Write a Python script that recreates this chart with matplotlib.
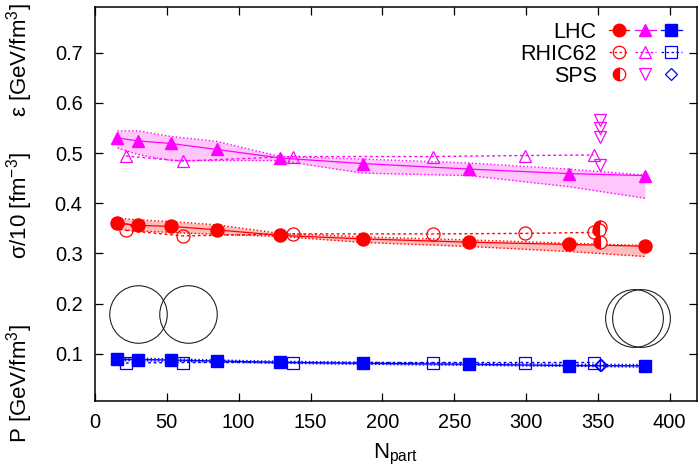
import matplotlib
matplotlib.use('Agg')
import matplotlib.pyplot as plt
from matplotlib.lines import Line2D
from matplotlib.legend_handler import HandlerTuple

plt.rcParams['font.family'] = ['Liberation Sans', 'DejaVu Sans']
plt.rcParams['mathtext.fontset'] = 'custom'
plt.rcParams['mathtext.rm'] = 'Liberation Sans'
plt.rcParams['mathtext.it'] = 'Liberation Sans:italic'

# LHC (Pb-Pb) centrality classes
N_lhc = [15.6, 30.0, 52.8, 85.0, 128.9, 186.4, 260.5, 329.7, 382.8]
eps_lhc = [0.530, 0.524, 0.519, 0.507, 0.490, 0.479, 0.468, 0.459, 0.455]
eps_lhc_hi = [0.544, 0.544, 0.533, 0.523, 0.493, 0.488, 0.480, 0.468, 0.456]
eps_lhc_lo = [0.510, 0.497, 0.485, 0.485, 0.485, 0.460, 0.455, 0.433, 0.410]
sig_lhc = [0.360, 0.356, 0.354, 0.347, 0.336, 0.329, 0.3225, 0.318, 0.3145]
sig_lhc_hi = [0.370, 0.367, 0.3635, 0.357, 0.340, 0.333, 0.327, 0.3205, 0.316]
sig_lhc_lo = [0.348, 0.345, 0.342, 0.338, 0.334, 0.322, 0.314, 0.304, 0.294]
p_lhc = [0.0894, 0.089, 0.088, 0.086, 0.0835, 0.0815, 0.0795, 0.077, 0.0765]
p_lhc_hi = [0.092, 0.0915, 0.0905, 0.088, 0.0855, 0.0835, 0.0815, 0.0795, 0.079]
p_lhc_lo = [0.087, 0.0865, 0.0855, 0.084, 0.0815, 0.0795, 0.0775, 0.0755, 0.074]

# RHIC 62 GeV
N_rhic = [21.5, 61.0, 137.5, 235.0, 299.5, 347.0]
eps_rhic = [0.494, 0.484, 0.493, 0.493, 0.495, 0.496]
sig_rhic = [0.346, 0.335, 0.339, 0.339, 0.340, 0.342]
p_rhic = [0.082, 0.083, 0.083, 0.083, 0.083, 0.083]

# SPS (central)
N_sps_eps = [351.5, 351.5, 351.5, 351.5]
eps_sps = [0.566, 0.549, 0.532, 0.477]
N_sps_sig = [351.5, 351.0, 351.5]
sig_sps = [0.352, 0.347, 0.322]
N_sps_p = [351.5, 352.5]
p_sps = [0.078, 0.0775]

# overlap sketches (nuclei)
circ_periph_x = [29.7, 64.8]
circ_periph_y = [0.1797, 0.1797]
circ_central_x = [375.3, 380.3]
circ_central_y = [0.171, 0.171]

xticks = [0, 50, 100, 150, 200, 250, 300, 350, 400]
yticks = [0.1, 0.2, 0.3, 0.4, 0.5, 0.6, 0.7]

RED, MAG, BLUE = '#ff0000', '#ff00ff', '#0000ff'

fig = plt.figure(figsize=(6.98, 4.71), dpi=100)
ax = fig.add_axes([95/698, 1 - 400.7/471, 602/698, 393.4/471])

bands = [
    (eps_lhc_lo, eps_lhc_hi, MAG, '#ffc6fb'),
    (sig_lhc_lo, sig_lhc_hi, RED, '#ffbcbc'),
    (p_lhc_lo, p_lhc_hi, BLUE, '#bcbcff'),
]
for lo, hi, c, fc in bands:
    ax.fill_between(N_lhc, lo, hi, color=fc, lw=0, zorder=1)
    ax.plot(N_lhc, lo, ls=':', color=c, lw=1.0, zorder=2)
    ax.plot(N_lhc, hi, ls=':', color=c, lw=1.0, zorder=2)

ms_o, ms_t, ms_s = 9.4, 8.6, 9.0
# RHIC62 open symbols with fine dashed line
ax.plot(N_rhic, eps_rhic, ls=(0, (2, 2)), lw=1.0, color=MAG, marker='^',
        ms=ms_t, mfc='none', mec=MAG, mew=0.9, zorder=3)
ax.plot(N_rhic, sig_rhic, ls=(0, (2, 2)), lw=1.0, color=RED, marker='o',
        ms=ms_o, mfc='none', mec=RED, mew=0.9, zorder=3)
ax.plot(N_rhic, p_rhic, ls=(0, (2, 2)), lw=1.0, color=BLUE, marker='s',
        ms=ms_s, mfc='none', mec=BLUE, mew=0.9, zorder=3)

# LHC filled symbols with solid line
ax.plot(N_lhc, eps_lhc, '-', lw=0.9, color=MAG, marker='^', ms=ms_t, zorder=4)
ax.plot(N_lhc, sig_lhc, '-', lw=0.9, color=RED, marker='o', ms=ms_o, zorder=4)
ax.plot(N_lhc, p_lhc, '-', lw=0.9, color=BLUE, marker='s', ms=ms_s, zorder=4)

# SPS
ax.plot(N_sps_eps, eps_sps, ls='none', marker='v', ms=ms_t, mfc='none',
        mec=MAG, mew=0.9, zorder=5)
ax.plot(N_sps_sig, sig_sps, ls='none', marker='o', ms=ms_o, fillstyle='left',
        mfc=RED, mfcalt='white', mec=RED, mew=0.9, zorder=5)
ax.plot(N_sps_p, p_sps, ls='none', marker='D', ms=6.0, mfc='none',
        mec=BLUE, mew=0.9, zorder=5)

# overlap circles
ax.plot(circ_periph_x, circ_periph_y, ls='none', marker='o', ms=41.4,
        mfc='none', mec='#222222', mew=0.8, zorder=2)
ax.plot(circ_central_x, circ_central_y, ls='none', marker='o', ms=41.6,
        mfc='none', mec='#222222', mew=0.8, zorder=2)

ax.set_xlim(0, 419)
ax.set_ylim(0.007, 0.79)
ax.set_xticks(xticks)
ax.set_yticks(yticks)
ax.set_xticklabels([str(v) for v in xticks])
ax.set_yticklabels(['%.1f' % v for v in yticks])
ax.tick_params(direction='in', length=5.5, width=0.9, top=True, right=True,
               labelsize=14.4, pad=9)
for sp in ax.spines.values():
    sp.set_linewidth(1.1)

ax.set_xlabel(r'N$_{\mathrm{part}}$', fontsize=16, labelpad=7)

fig.text(20/698, 1 - 60/471, r'ε [GeV/fm$^{\mathrm{3}}$]', rotation=90,
         ha='center', va='center', fontsize=16)
fig.text(20/698, 1 - 206/471, r'σ/10 [fm$^{\mathrm{-3}}$]', rotation=90,
         ha='center', va='center', fontsize=16)
fig.text(20/698, 1 - 384/471, r'P [GeV/fm$^{\mathrm{3}}$]', rotation=90,
         ha='center', va='center', fontsize=16)

# legend with three symbol columns
def h(color, marker, ls, **kw):
    return Line2D([], [], color=color, marker=marker, ls=ls, lw=0.9,
                  ms=kw.pop('ms', 8.6), **kw)

lhc_h = (h(RED, 'o', '-', ms=9.0), h(MAG, '^', '-'), h(BLUE, 's', '-', ms=8.6))
rhic_h = (h(RED, 'o', (0, (2, 2)), mfc='none', mew=0.9, ms=9.0),
          h(MAG, '^', (0, (2, 2)), mfc='none', mew=0.9),
          h(BLUE, 's', (0, (2, 2)), mfc='none', mew=0.9))
sps_h = (h(RED, 'o', 'none', fillstyle='left', mfc=RED, mfcalt='white', mew=0.9, ms=9.0),
         h(MAG, 'v', 'none', mfc='none', mew=0.9),
         h(BLUE, 'D', 'none', mfc='none', mew=0.9, ms=6.0))
ax.legend([lhc_h, rhic_h, sps_h], ['LHC', 'RHIC62', 'SPS'],
          handler_map={tuple: HandlerTuple(ndivide=None, pad=0.25)},
          loc='upper right', bbox_to_anchor=(0.9746, 0.963),
          frameon=False, markerfirst=False, fontsize=15.5,
          handlelength=3.4, handletextpad=0.55, labelspacing=0.05,
          borderpad=0, borderaxespad=0)

fig.savefig('out.png', dpi=100)
